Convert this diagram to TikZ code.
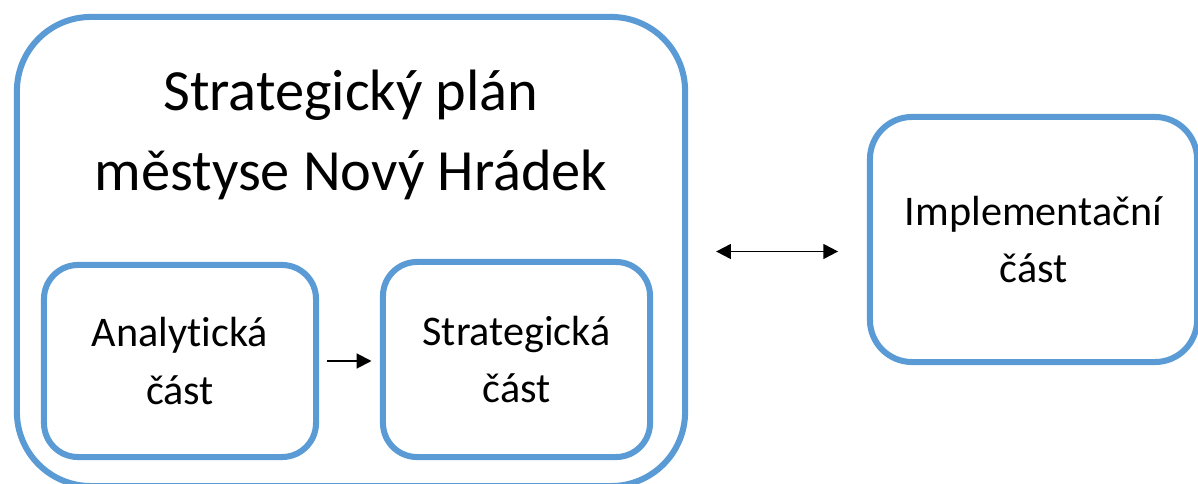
\documentclass[tikz,border=0pt]{standalone}
\usepackage{fontspec}
\setmainfont[Ligatures = NoCommon]{Carlito}
\usetikzlibrary{arrows.meta}
\definecolor{boxblue}{HTML}{5B9BD5}

\begin{document}
\begin{tikzpicture} [x = 0.025cm, y = -0.025cm,
  >={Triangle[length = 10.5pt, width = 10.5pt]},
  part/.style = {draw = boxblue, line width = 4.3pt, align = center, inner sep = 0pt},
  bigtext/.style = {font = \fontsize{41.5}{57}\selectfont},
  smalltext/.style = {font = \fontsize{30}{41}\selectfont},
  arr/.style = {line width = 1.4pt}]
\useasboundingbox (0, 0) rectangle (1198, 484);
\node[part, rounded corners = 1.85cm, minimum width = 16.7cm, minimum height = 11.725cm] (plan) at (351, 251.5){};
\node[bigtext, align = center] (title) at (351, 135){Strategický plán\\městyse Nový Hrádek};
\node[part, smalltext, rounded corners = 0.85cm, minimum width = 6.8cm, minimum height = 4.8cm] (anal) at (180, 361){Analytická\\část};
\node[part, smalltext, rounded corners = 0.85cm, minimum width = 6.675cm, minimum height = 4.875cm] (strat) at (516.5, 359.5){Strategická\\část};
\node[part, smalltext, rounded corners = 1.05cm, minimum width = 8.175cm, minimum height = 6.125cm] (impl) at (1033.5, 239.5){Implementační\\část};
\draw[arr, ->, shorten <= 6pt, shorten >= 6pt] (anal.east) -- (strat.west |- anal.east);
\draw[arr, <->] ([xshift = 0.7cm]plan.east) -- ([xshift = -0.72cm]impl.west |- plan.east);
\end{tikzpicture}
\end{document}
